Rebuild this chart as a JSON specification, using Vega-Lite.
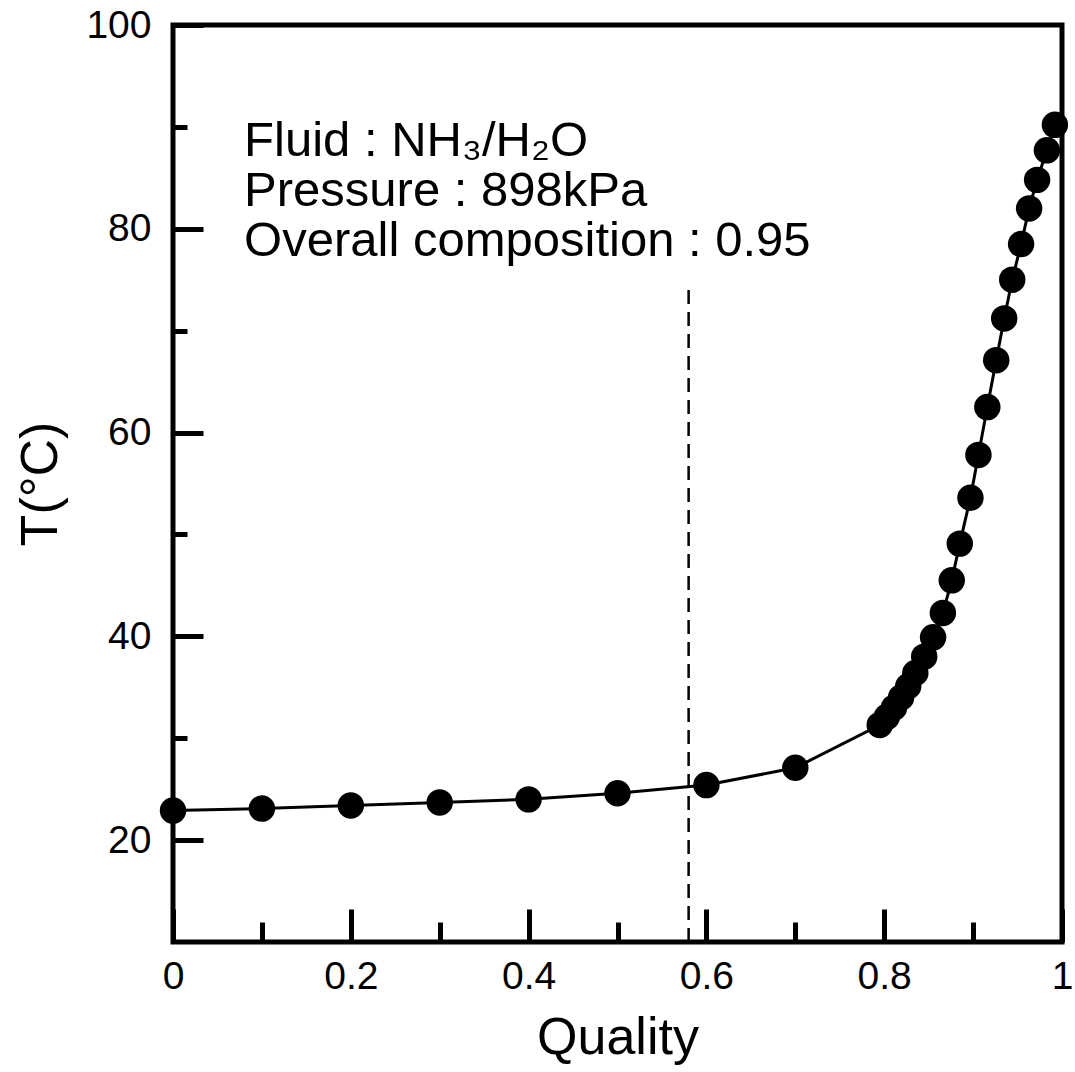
{
  "$schema": "https://vega.github.io/schema/vega-lite/v6.json",
  "width": 889,
  "height": 917,
  "autosize": "none",
  "padding": {"left": 173, "top": 25, "right": 13, "bottom": 130},
  "background": "white",
  "config": {
    "view": {"stroke": "black", "strokeWidth": 5},
    "font": "Liberation Sans",
    "axis": {"grid": false, "domain": false, "tickColor": "black", "labelColor": "black", "titleColor": "black", "labelFont": "Liberation Sans", "titleFont": "Liberation Sans", "titleFontWeight": "normal", "tickWidth": 5}
  },
  "datasets": {
    "curve": [
      {"q": 0.0, "T": 22.9},
      {"q": 0.1, "T": 23.1},
      {"q": 0.2, "T": 23.4},
      {"q": 0.3, "T": 23.7},
      {"q": 0.4, "T": 24.0},
      {"q": 0.5, "T": 24.6},
      {"q": 0.6, "T": 25.4},
      {"q": 0.7, "T": 27.1},
      {"q": 0.795, "T": 31.3},
      {"q": 0.803, "T": 32.1},
      {"q": 0.811, "T": 33.0},
      {"q": 0.819, "T": 34.0},
      {"q": 0.827, "T": 35.1},
      {"q": 0.835, "T": 36.4},
      {"q": 0.845, "T": 38.0},
      {"q": 0.855, "T": 39.9},
      {"q": 0.866, "T": 42.3},
      {"q": 0.876, "T": 45.5},
      {"q": 0.885, "T": 49.1},
      {"q": 0.897, "T": 53.6},
      {"q": 0.906, "T": 57.8},
      {"q": 0.916, "T": 62.5},
      {"q": 0.926, "T": 67.1},
      {"q": 0.935, "T": 71.2},
      {"q": 0.944, "T": 75.0},
      {"q": 0.954, "T": 78.5},
      {"q": 0.963, "T": 82.0},
      {"q": 0.972, "T": 84.8},
      {"q": 0.983, "T": 87.7},
      {"q": 0.992, "T": 90.2}
    ],
    "dash": [{"q": 0.58, "T1": 10, "T2": 74.3}],
    "notes": [
      {"q": 0.08, "T": 88.6, "label": "Fluid : NH₃/H₂O"},
      {"q": 0.08, "T": 83.7, "label": "Pressure : 898kPa"},
      {"q": 0.08, "T": 78.8, "label": "Overall composition : 0.95"}
    ]
  },
  "resolve": {"axis": {"x": "independent", "y": "independent"}},
  "layer": [
    {
      "data": {"name": "curve"},
      "mark": {"type": "line", "color": "black", "strokeWidth": 3, "clip": true},
      "encoding": {
        "x": {"field": "q", "type": "quantitative", "scale": {"domain": [0, 1], "nice": false, "zero": false},
          "axis": {"orient": "bottom", "values": [0, 0.2, 0.4, 0.6, 0.8, 1], "tickSize": -33, "labelFontSize": 39, "labelPadding": 48, "labelExpr": "datum.value == 0 ? '0' : datum.value == 1 ? '1' : format(datum.value, '.1f')", "labelFlush": false, "title": "Quality", "titleFontSize": 52, "titlePadding": 16}},
        "y": {"field": "T", "type": "quantitative", "scale": {"domain": [10, 100], "nice": false, "zero": false},
          "axis": {"orient": "left", "values": [20, 40, 60, 80, 100], "tickSize": -30, "labelFontSize": 39, "labelPadding": 52, "labelFlush": false, "title": "T(°C)", "titleFontSize": 52, "titlePadding": 18}}
      }
    },
    {
      "data": {"name": "curve"},
      "mark": {"type": "point", "filled": true, "color": "black", "size": 700, "opacity": 1, "shape": "circle"},
      "encoding": {
        "x": {"field": "q", "type": "quantitative",
          "axis": {"orient": "bottom", "values": [0.1, 0.3, 0.5, 0.7, 0.9], "tickSize": -20, "labels": false, "title": null, "domain": false}},
        "y": {"field": "T", "type": "quantitative",
          "axis": {"orient": "left", "values": [30, 50, 70, 90], "tickSize": -14, "labels": false, "title": null, "domain": false}}
      }
    },
    {
      "data": {"name": "dash"},
      "mark": {"type": "rule", "color": "black", "strokeWidth": 2.5, "strokeDash": [14, 8]},
      "encoding": {
        "x": {"field": "q", "type": "quantitative", "axis": null},
        "y": {"field": "T1", "type": "quantitative", "axis": null},
        "y2": {"field": "T2"}
      }
    },
    {
      "data": {"name": "notes"},
      "mark": {"type": "text", "align": "left", "baseline": "middle", "fontSize": 49, "font": "Liberation Sans", "color": "black"},
      "encoding": {
        "x": {"field": "q", "type": "quantitative", "axis": null},
        "y": {"field": "T", "type": "quantitative", "axis": null},
        "text": {"field": "label"}
      }
    }
  ]
}
